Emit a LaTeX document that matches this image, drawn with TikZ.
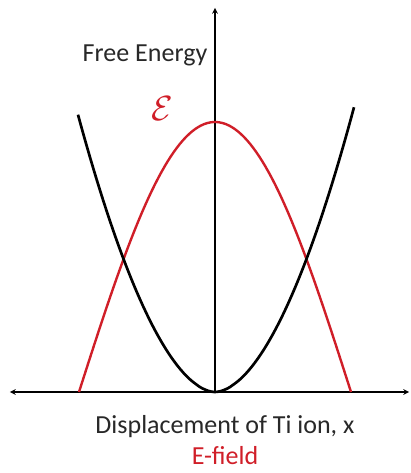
\documentclass[tikz,border=0pt]{standalone}
\usepackage{fontspec}
\setmainfont{Carlito}
\usepackage{tikz}
\usetikzlibrary{arrows,positioning}
\definecolor{fieldred}{RGB}{208,30,40}
\definecolor{labelgray}{RGB}{40,40,40}

\begin{document}
\begin{tikzpicture}[x=0.025cm, y=0.025cm,
	axis/.style={stealth-stealth, line width=0.8pt},
	energy/.style={line width=1.9pt, black},
	field/.style={line width=1.7pt, fieldred},
	lbl/.style={font=\fontsize{18.5}{22}\selectfont, text=labelgray, inner sep=0pt}
]
	\useasboundingbox (-215,-81) rectangle (195,392);
	\coordinate (origin) at (0,0);
	\coordinate (ytip) at (0,384);
	\coordinate (xleft) at (-205,0);
	\coordinate (xright) at (194,0);
	\draw[axis] (xleft) -- (xright);
	\draw[-stealth, line width=0.8pt] (origin) -- (ytip);
	\draw[field] plot[domain=-136:136, samples=90] (\x, {270*cos(90*\x/136)});
	\draw[energy] plot[domain=-137:139, samples=90] (\x, {270*pow(abs(\x)/135,1.82)});
	\node[lbl] (fe) at (-70,337) {Free Energy};
	\node[lbl, text=fieldred, font=\fontsize{26}{30}\selectfont] (eps) at (-53,283) {$\mathcal{E}$};
	\node[lbl] (disp) at (10,-35) {Displacement of Ti ion, x};
	\node[lbl, text=fieldred, below=8.5pt of disp.base] (efield) {E-field};
\end{tikzpicture}
\end{document}
